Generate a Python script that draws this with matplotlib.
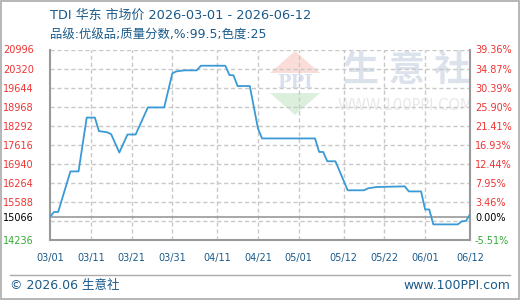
import matplotlib
matplotlib.use("Agg")
import matplotlib.pyplot as plt
from matplotlib.patches import Polygon, Rectangle
from matplotlib.lines import Line2D
import pandas as pd

plt.rcParams['font.family'] = ['Noto Sans CJK SC', 'DejaVu Sans']
MIXED = ['DejaVu Sans', 'Noto Sans CJK SC']

# ---------------- data ----------------
dates = ["2026-03-01", "2026-03-02", "2026-03-03", "2026-03-06", "2026-03-08", "2026-03-10",
         "2026-03-12", "2026-03-13", "2026-03-15", "2026-03-16", "2026-03-18", "2026-03-20",
         "2026-03-22", "2026-03-25", "2026-03-29", "2026-03-31", "2026-04-01", "2026-04-03",
         "2026-04-06", "2026-04-07", "2026-04-13", "2026-04-14", "2026-04-15", "2026-04-16",
         "2026-04-19", "2026-04-21", "2026-04-22", "2026-05-05", "2026-05-06", "2026-05-07",
         "2026-05-08", "2026-05-10", "2026-05-13", "2026-05-17", "2026-05-18", "2026-05-20",
         "2026-05-27", "2026-05-28", "2026-05-31", "2026-06-01", "2026-06-02", "2026-06-03",
         "2026-06-09", "2026-06-10", "2026-06-11", "2026-06-12"]
prices = [15066, 15230, 15230, 16670, 16670, 18580,
          18580, 18100, 18060, 17990, 17340, 17980,
          17980, 18940, 18940, 20150, 20220, 20256,
          20256, 20420, 20420, 20090, 20080, 19700,
          19700, 18190, 17840, 17840, 17360, 17360,
          17030, 17030, 16000, 16000, 16070, 16115,
          16140, 15960, 15960, 15320, 15320, 14790,
          14790, 14900, 14910, 15140]
tick_dates = ["2026-03-01", "2026-03-11", "2026-03-21", "2026-03-31", "2026-04-11", "2026-04-21",
              "2026-05-01", "2026-05-12", "2026-05-22", "2026-06-01", "2026-06-12"]
base_price = 15066
y_min, y_max, y_step = 14236, 20996, 676
y_label_values = [20996, 20320, 19644, 18968, 18292, 17616, 16940, 16264, 15588, 15066, 14236]

title = "TDI 华东 市场价 2026-03-01 - 2026-06-12"
subtitle = "品级:优级品;质量分数,%:99.5;色度:25"

# ---------------- figure ----------------
W, H = 520, 300
fig = plt.figure(figsize=(W / 100, H / 100), dpi=100)
fig.patch.set_facecolor("white")


def fx(x):
    return x / W


def fy(y):
    return 1 - y / H


ax = fig.add_axes([fx(50), fy(240), (470 - 50) / W, (240 - 49.5) / H])
ax.patch.set_visible(False)

start = pd.Timestamp(dates[0])
xs = [(pd.Timestamp(d) - start).days for d in dates]
tick_x = [(pd.Timestamp(d) - start).days for d in tick_dates]
tick_lbl = [pd.Timestamp(d).strftime("%m/%d") for d in tick_dates]

ax.set_xlim(tick_x[0], tick_x[-1])
ax.set_ylim(y_min, y_max)

grid_c = "#c8c8c8"
v = y_min
while v <= y_max + 1:
    ax.axhline(v, color=grid_c, lw=1, ls=(0, (3, 2)), zorder=1)
    v += y_step
for t in tick_x[1:-1]:
    ax.axvline(t, color=grid_c, lw=1, ls=(0, (3, 2)), zorder=1)
ax.axhline(base_price, color="#999999", lw=1.2, zorder=2)

ax.plot(xs, prices, color="#3a9ad6", lw=1.3, zorder=3)

for s in ["left", "right", "bottom"]:
    ax.spines[s].set_color("#999999")
    ax.spines[s].set_linewidth(1.5)
ax.spines["top"].set_visible(False)


def lab_color(val):
    if val == base_price:
        return "black"
    return "#33aa33" if val < base_price else "#ee3333"


ax.set_xticks(tick_x)
ax.set_xticklabels(tick_lbl)
ax.set_yticks(y_label_values)
ax.set_yticklabels([str(v) for v in y_label_values])
ax.tick_params(axis="both", length=0, labelsize=7)
ax.tick_params(axis="x", pad=9, colors="#1a5a8a")
ax.tick_params(axis="y", pad=11.5)
for lab, val in zip(ax.get_yticklabels(), y_label_values):
    lab.set_family("DejaVu Sans")
    lab.set_color(lab_color(val))
for lab in ax.get_xticklabels():
    lab.set_family("DejaVu Sans")

ax2 = ax.twinx()
ax2.set_ylim(y_min, y_max)
ax2.set_yticks(y_label_values)
ax2.set_yticklabels(["%.2f%%" % ((v - base_price) / base_price * 100) for v in y_label_values])
ax2.tick_params(axis="y", length=0, labelsize=7, pad=3.6)
for lab, val in zip(ax2.get_yticklabels(), y_label_values):
    lab.set_family("DejaVu Sans")
    lab.set_color(lab_color(val))
for s in ax2.spines.values():
    s.set_visible(False)
ax2.patch.set_visible(False)

# ---------------- watermark ----------------
def poly(pts, color):
    fig.add_artist(Polygon([(fx(a), fy(b)) for a, b in pts], closed=True,
                           transform=fig.transFigure, facecolor=color, edgecolor="none", zorder=-1))

poly([(295, 51), (270, 73), (320, 73)], "#fadcd8")
poly([(270, 93), (320, 93), (295, 115)], "#dcefdc")
fig.text(fx(295), fy(83), "PPI", fontsize=13, fontweight="bold", family="DejaVu Serif",
         color="#d9dfec", ha="center", va="center", zorder=-1)
for ch, cx in zip("生意社", [361, 407, 452]):
    fig.text(fx(cx), fy(70.5), ch, fontsize=26, color="#dce2eb", ha="center", va="center",
             family="Noto Sans CJK SC", fontweight="bold", zorder=-1)
fig.text(fx(405), fy(105.5), "WWW.100PPI.COM", fontsize=10.5, color="#e8e8e8",
         ha="center", va="center", family="DejaVu Sans", zorder=-1)

# ---------------- titles & footer ----------------
tc = "#1a5a8a"
fig.text(fx(50), fy(15.5), title, fontsize=9.3, color=tc, ha="left", va="center", family=MIXED)
fig.text(fx(50), fy(35), subtitle, fontsize=8.9, color=tc, ha="left", va="center", family=MIXED)

fig.add_artist(Line2D([fx(10), fx(510)], [fy(275), fy(275)], transform=fig.transFigure,
                      color="#aaaaaa", lw=1))
fig.text(fx(10), fy(285.5), "© 2026.06 生意社", fontsize=9, color=tc, ha="left", va="center",
         family=MIXED)
fig.text(fx(510), fy(285.5), "www.100PPI.com", fontsize=9, color=tc, ha="right", va="center",
         family="DejaVu Sans")

fig.add_artist(Rectangle((0.001, 0.002), 0.997, 0.995, transform=fig.transFigure,
                         fill=False, edgecolor="#aaaaaa", lw=1.2))

fig.savefig("out.png", dpi=100)
